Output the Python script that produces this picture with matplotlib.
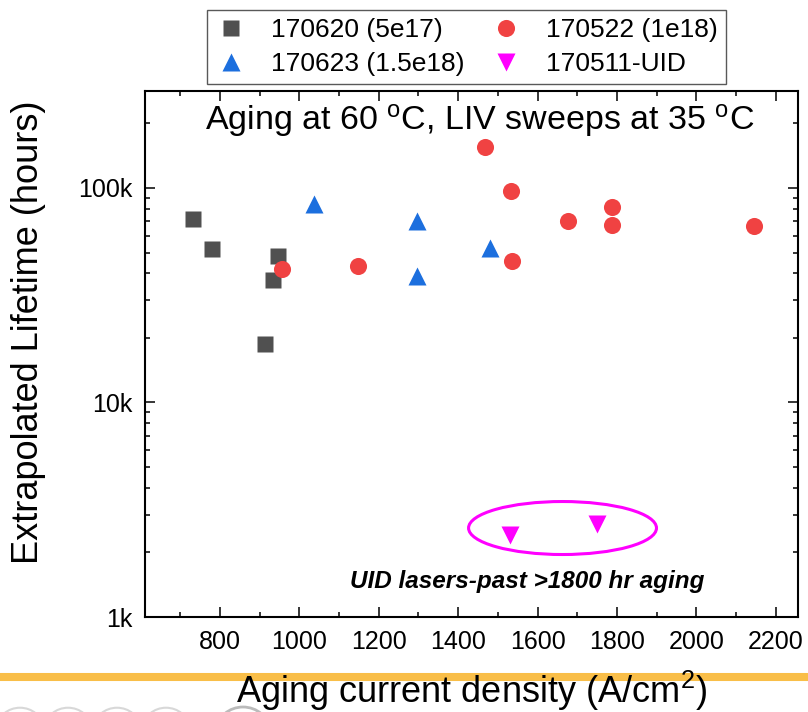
import numpy as np
import matplotlib
matplotlib.use("Agg")
import matplotlib.pyplot as plt
from matplotlib.patches import Ellipse, Circle
from matplotlib.ticker import FixedLocator, LogLocator, MultipleLocator, NullFormatter
from matplotlib.lines import Line2D

plt.rcParams["font.family"] = ["Liberation Sans", "DejaVu Sans"]
plt.rcParams["mathtext.fontset"] = "custom"
plt.rcParams["mathtext.rm"] = "Liberation Sans"
plt.rcParams["mathtext.it"] = "Liberation Sans:italic"
plt.rcParams["mathtext.bf"] = "Liberation Sans:bold"

# 170620 (5e17)
x_5e17 = [732, 780, 946, 933, 913]
y_5e17 = [71.7e3, 51.9e3, 48.2e3, 37.2e3, 18.7e3]
# 170522 (1e18)
x_1e18 = [957, 1148, 1467, 1533, 1677, 1788, 1788, 2146, 1536]
y_1e18 = [41.9e3, 43.2e3, 155.8e3, 97.1e3, 70.4e3, 81.5e3, 67.4e3, 66.7e3, 45.5e3]
# 170623 (1.5e18)
x_15e18 = [1036, 1295, 1295, 1479]
y_15e18 = [84.2e3, 70.4e3, 39.0e3, 52.5e3]
# 170511-UID
x_uid = [1531, 1749]
y_uid = [2400, 2710]

labels = ["170620 (5e17)", "170522 (1e18)", "170623 (1.5e18)", "170511-UID"]
ytick_vals = [1e3, 1e4, 1e5]
ytick_labels = ["1k", "10k", "100k"]

fig = plt.figure(figsize=(8.08, 7.12), dpi=100)
ax = fig.add_axes([0.1798, 0.1334, 0.8075, 0.7392])

h1, = ax.plot(x_5e17, y_5e17, ls="none", marker="s", ms=11.3, color="#505050", mec="none")
h2, = ax.plot(x_1e18, y_1e18, ls="none", marker="o", ms=12.3, color="#F04242", mec="none")
h3, = ax.plot(x_15e18, y_15e18, ls="none", marker="^", ms=13.5, color="#1C6FDE", mec="none")
h4, = ax.plot(x_uid, y_uid, ls="none", marker="v", ms=13.5, color="#FF00FF", mec="none")

ax.set_yscale("log")
ax.set_xlim(612, 2255)
ax.set_ylim(1000, 2.84e5)

ax.xaxis.set_major_locator(MultipleLocator(200))
ax.xaxis.set_minor_locator(MultipleLocator(100))
ax.set_xticks([800, 1000, 1200, 1400, 1600, 1800, 2000, 2200])
ax.yaxis.set_major_locator(FixedLocator(ytick_vals))
ax.set_yticklabels(ytick_labels)
ax.yaxis.set_minor_locator(LogLocator(base=10, subs=np.arange(2, 10)))
ax.yaxis.set_minor_formatter(NullFormatter())

ax.tick_params(which="both", direction="in", top=True, right=True, width=1.1)
ax.tick_params(which="major", length=7, labelsize=18, pad=9)
ax.tick_params(which="minor", length=3.5)
for s in ax.spines.values():
    s.set_linewidth(1.5)

ax.set_ylabel("Extrapolated Lifetime (hours)", fontsize=26)
ax.yaxis.set_label_coords(-0.152, 0.5415)
ax.set_xlabel("Aging current density (A/cm$^2$)", fontsize=26, labelpad=11)

ax.text(0.513, 0.944, "Aging at 60 $^{\\rm o}$C, LIV sweeps at 35 $^{\\rm o}$C",
        transform=ax.transAxes, ha="center", va="center", fontsize=24.5)

# UID 激光器圈注
ax.add_patch(Ellipse((0.6395, 0.1691), 0.288, 0.1007, transform=ax.transAxes,
                     fill=False, edgecolor="#FF00FF", lw=2.2))
ax.text(0.5858, 0.067, "UID lasers-past >1800 hr aging", transform=ax.transAxes,
        ha="center", va="center", fontsize=17.5, fontweight="bold", fontstyle="italic")

# 图例按行排列: 第一行 170620 / 170522, 第二行 170623 / 170511
leg = fig.legend([h1, h3, h2, h4], [labels[0], labels[2], labels[1], labels[3]],
                 ncol=2, loc="upper left", bbox_to_anchor=(0.2566, 0.986),
                 borderaxespad=0, fontsize=19, frameon=True,
                 fancybox=False, edgecolor="#303030", handlelength=1.2,
                 handletextpad=0.9, columnspacing=1.0, labelspacing=0.4,
                 borderpad=0.3)
leg.get_frame().set_linewidth(1.0)

# 页面装饰: 橙色横线和底部圆圈
fig.add_artist(Line2D([0, 1], [0.0492, 0.0492], transform=fig.transFigure,
                      color="#F9BE48", lw=5.8, zorder=0))
for cx in [20, 68, 117, 166]:
    fig.add_artist(Circle((cx / 808, -0.022), 0.028, transform=fig.transFigure,
                          fill=False, edgecolor="#D8D8D8", lw=1.5))
fig.add_artist(Circle((243 / 808, -0.025), 0.032, transform=fig.transFigure,
                      fill=False, edgecolor="#BBBBBB", lw=2))

fig.savefig("out.png", dpi=100)
